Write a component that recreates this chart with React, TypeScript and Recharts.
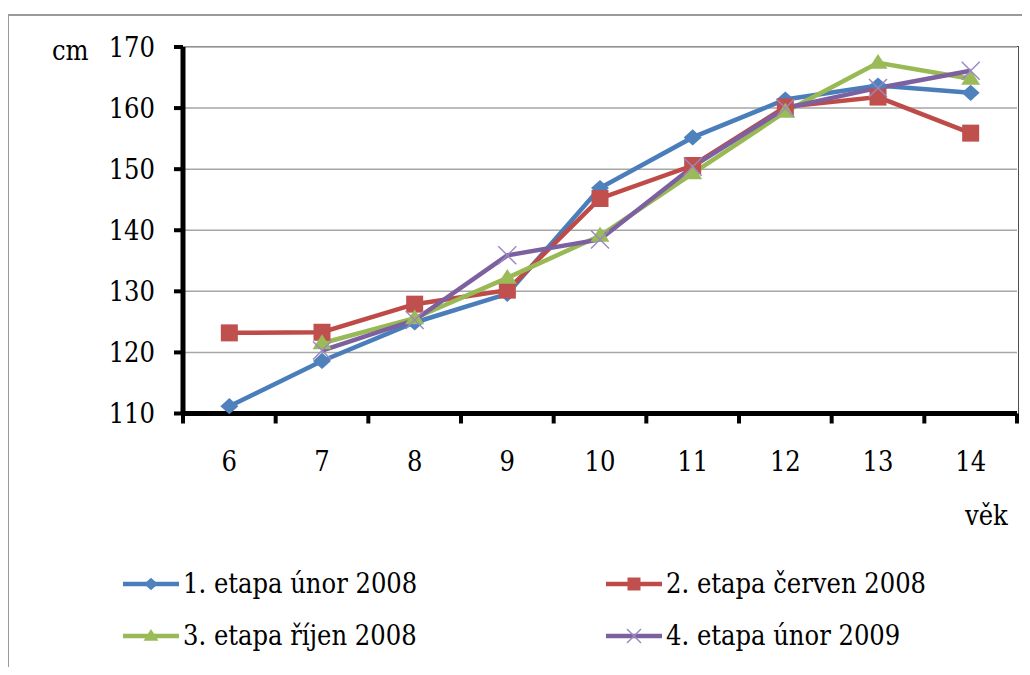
import {
	CartesianGrid,
	Line,
	LineChart,
	XAxis,
	YAxis,
} from "recharts";

const ages = [6, 7, 8, 9, 10, 11, 12, 13, 14];
const etapa1 = [111.2, 118.6, 124.9, 129.6, 146.9, 155.2, 161.4, 163.7, 162.5];
const etapa2 = [123.2, 123.3, 127.9, 130.2, 145.2, 150.6, 160.2, 161.8, 155.9];
const etapa3 = [null, 121.5, 125.6, 132.2, 139.1, 149.3, 159.4, 167.4, 164.8];
const etapa4 = [null, 120.3, 125.3, 135.9, 138.5, 150.4, 160.0, 163.3, 166.1];
const seriesNames = [
	"1. etapa únor 2008",
	"2. etapa červen 2008",
	"3. etapa říjen 2008",
	"4. etapa únor 2009",
];
const yTicks = [110, 120, 130, 140, 150, 160, 170];

const FONT = '"DejaVu Serif Condensed", "DejaVu Serif", serif';
const FS = 27;
const W = 1030;
const H = 675;
const PLOT_LEFT = 183;
const PLOT_RIGHT = 1017;
const PLOT_TOP = 47;
const PLOT_BOTTOM = 413.5;
const BAND = (PLOT_RIGHT - PLOT_LEFT) / ages.length;

const COLORS = {
	blue: { line: "#4a7ebb", fill: "#4f81bd" },
	red: { line: "#be4b48", fill: "#c0504d" },
	green: { line: "#98b954", fill: "#9bbb59" },
	purple: { line: "#7d60a0", fill: "#9c86c0" },
};

const data = ages.map((age, i) => ({
	age,
	s1: etapa1[i],
	s2: etapa2[i],
	s3: etapa3[i],
	s4: etapa4[i],
}));

type MarkProps = { cx?: number; cy?: number | null; size?: number };

function Diamond({ cx, cy, size = 18 }: MarkProps) {
	if (cx == null || cy == null) return <g />;
	const w = size / 2;
	const h = size * 0.45;
	return (
		<polygon
			points={`${cx},${cy - h} ${cx + w},${cy} ${cx},${cy + h} ${cx - w},${cy}`}
			fill={COLORS.blue.fill}
		/>
	);
}

function Square({ cx, cy, size = 17 }: MarkProps) {
	if (cx == null || cy == null) return <g />;
	return (
		<rect
			x={cx - size / 2}
			y={cy - size / 2}
			width={size}
			height={size}
			fill={COLORS.red.fill}
		/>
	);
}

function Triangle({ cx, cy, size = 19 }: MarkProps) {
	if (cx == null || cy == null) return <g />;
	const w = size / 2;
	const h = size * 0.78;
	return (
		<polygon
			points={`${cx},${cy - h * 0.6} ${cx + w},${cy + h * 0.4} ${cx - w},${cy + h * 0.4}`}
			fill={COLORS.green.fill}
		/>
	);
}

function Cross({ cx, cy, size = 18 }: MarkProps) {
	if (cx == null || cy == null) return <g />;
	const r = size / 2;
	return (
		<g stroke={COLORS.purple.fill} strokeWidth={1.4}>
			<line x1={cx - r} y1={cy - r} x2={cx + r} y2={cy + r} />
			<line x1={cx - r} y1={cy + r} x2={cx + r} y2={cy - r} />
		</g>
	);
}

// age labels sit in the middle of each band, tick marks on the band edges
function AgeTick(props: any) {
	const { x, y, payload, index } = props;
	const half = BAND / 2;
	return (
		<g>
			<text
				x={x}
				y={y + 57}
				textAnchor="middle"
				style={{ fontFamily: FONT, fontSize: FS }}
				fill="#000"
			>
				{payload.value}
			</text>
			<line
				x1={x - half}
				x2={x - half}
				y1={y}
				y2={y + 10}
				stroke="#000"
				strokeWidth={4}
			/>
			{index === ages.length - 1 && (
				<line
					x1={x + half}
					x2={x + half}
					y1={y}
					y2={y + 10}
					stroke="#000"
					strokeWidth={4}
				/>
			)}
		</g>
	);
}

const legendItems = [
	{ name: seriesNames[0], color: COLORS.blue.line, Mark: Diamond, size: 14, left: 123, top: 569 },
	{ name: seriesNames[1], color: COLORS.red.line, Mark: Square, size: 13, left: 606, top: 569 },
	{ name: seriesNames[2], color: COLORS.green.line, Mark: Triangle, size: 15, left: 123, top: 621 },
	{ name: seriesNames[3], color: COLORS.purple.line, Mark: Cross, size: 14, left: 606, top: 621 },
];

const textStyle = {
	position: "absolute" as const,
	fontFamily: FONT,
	fontSize: FS,
	lineHeight: "30px",
	color: "#000",
	whiteSpace: "nowrap" as const,
};

export default function App() {
	return (
		<div
			style={{
				position: "relative",
				width: W,
				height: H,
				margin: -8,
				overflow: "hidden",
				background: "#fff",
				fontFamily: FONT,
			}}
		>
			<div
				style={{
					position: "absolute",
					left: 7,
					top: 14,
					width: W,
					height: H,
					borderLeft: "2px solid #9a9a9a",
					borderTop: "2px solid #9a9a9a",
				}}
			/>
			{/* thin dark frame on the top and right of the plot */}
			<div
				style={{
					position: "absolute",
					left: PLOT_LEFT,
					top: PLOT_TOP - 0.75,
					width: PLOT_RIGHT - PLOT_LEFT + 0.75,
					height: PLOT_BOTTOM - PLOT_TOP,
					borderTop: "1.5px solid #505050",
					borderRight: "1.5px solid #505050",
				}}
			/>
			<div style={{ position: "absolute", left: 0, top: 0 }}>
				<LineChart
					width={W}
					height={H}
					data={data}
					margin={{ top: PLOT_TOP, right: W - PLOT_RIGHT, left: 0, bottom: 0 }}
				>
					<CartesianGrid vertical={false} stroke="#a6a6a6" strokeWidth={1.5} />
					<XAxis
						dataKey="age"
						height={H - PLOT_BOTTOM}
						padding={{ left: BAND / 2, right: BAND / 2 }}
						axisLine={{ stroke: "#000", strokeWidth: 5 }}
						tickLine={false}
						tickSize={0}
						tickMargin={0}
						interval={0}
						tick={<AgeTick />}
					/>
					<YAxis
						width={PLOT_LEFT}
						domain={[110, 170]}
						ticks={yTicks}
						interval={0}
						axisLine={{ stroke: "#000", strokeWidth: 5 }}
						tickLine={{ stroke: "#000", strokeWidth: 4 }}
						tickSize={9}
						tickMargin={19}
						tick={{ fill: "#000", fontSize: FS, fontFamily: FONT }}
					/>
					<Line
						dataKey="s1"
						name={seriesNames[0]}
						stroke={COLORS.blue.line}
						strokeWidth={4.5}
						dot={<Diamond />}
						isAnimationActive={false}
					/>
					<Line
						dataKey="s2"
						name={seriesNames[1]}
						stroke={COLORS.red.line}
						strokeWidth={4.5}
						dot={<Square />}
						isAnimationActive={false}
					/>
					<Line
						dataKey="s3"
						name={seriesNames[2]}
						stroke={COLORS.green.line}
						strokeWidth={4.5}
						dot={<Triangle />}
						isAnimationActive={false}
					/>
					<Line
						dataKey="s4"
						name={seriesNames[3]}
						stroke={COLORS.purple.line}
						strokeWidth={4.5}
						dot={<Cross />}
						isAnimationActive={false}
					/>
				</LineChart>
			</div>
			<div style={{ ...textStyle, left: 52, top: 36 }}>cm</div>
			<div style={{ ...textStyle, left: 965, top: 501 }}>věk</div>
			{legendItems.map(({ name, color, Mark, size, left, top }) => (
				<div
					key={name}
					style={{ position: "absolute", left, top, display: "flex", alignItems: "center" }}
				>
					<svg width={56} height={30} style={{ display: "block" }}>
						<line x1={0} x2={56} y1={15} y2={15} stroke={color} strokeWidth={4.5} />
						<Mark cx={28} cy={15} size={size} />
					</svg>
					<span style={{ ...textStyle, position: "static", marginLeft: 4 }}>{name}</span>
				</div>
			))}
		</div>
	);
}
